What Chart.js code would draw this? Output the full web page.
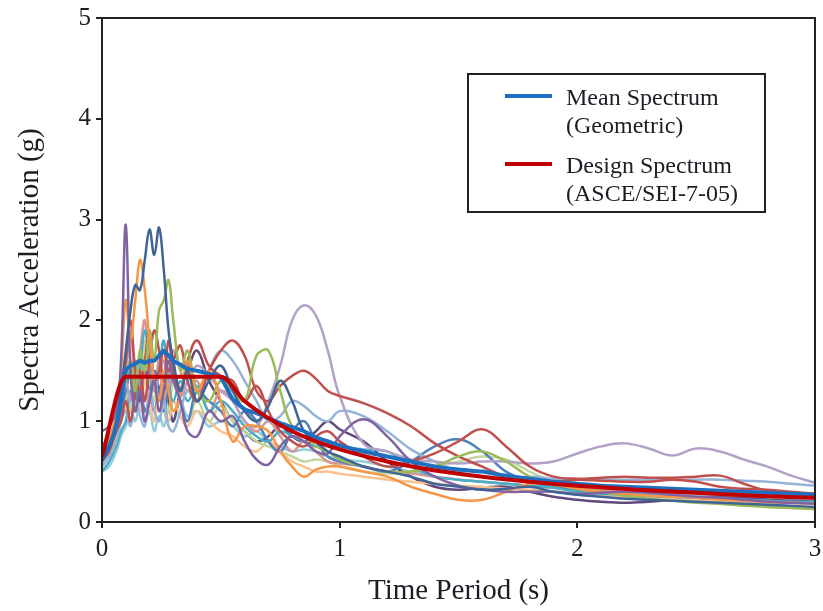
<!DOCTYPE html>
<html>
<head>
<meta charset="UTF-8">
<title>Spectra Acceleration vs Time Period</title>
<script src="https://cdn.jsdelivr.net/npm/chart.js@4"></script>
<style>
  html, body { margin: 0; padding: 0; background: #fff; }
  #wrap { width: 823px; height: 611px; }
</style>
</head>
<body>
<div id="wrap"><canvas id="chart" width="823" height="611"></canvas></div>
<script>
// periods (s) shared by the ground motion spectra and the mean
const periods = [0, 0.03, 0.06, 0.08, 0.1, 0.12, 0.14, 0.16, 0.18, 0.2,
  0.22, 0.24, 0.26, 0.28, 0.3, 0.33, 0.36, 0.4, 0.45, 0.5,
  0.55, 0.6, 0.65, 0.7, 0.75, 0.8, 0.85, 0.9, 0.95, 1.0,
  1.1, 1.2, 1.3, 1.4, 1.5, 1.6, 1.7, 1.8, 1.9, 2.0,
  2.1, 2.2, 2.3, 2.4, 2.5, 2.6, 2.7, 2.8, 2.9, 3.0];

// individual ground motion spectra (g)
const gm01 = [0.6, 0.75, 1.0, 1.3, 1.7, 2.1, 2.35, 2.3, 2.6, 2.9,
  2.65, 2.92, 2.5, 1.9, 1.6, 1.3, 1.5, 1.2, 1.4, 1.55,
  1.3, 1.1, 1.0, 1.15, 1.4, 1.2, 0.9, 0.8, 0.7, 0.65,
  0.55, 0.5, 0.45, 0.38, 0.35, 0.32, 0.33, 0.35, 0.3, 0.27,
  0.25, 0.23, 0.22, 0.21, 0.2, 0.19, 0.18, 0.17, 0.16, 0.15];
const gm02 = [0.9, 0.95, 1.1, 1.6, 2.95, 1.5, 1.1, 1.3, 1.0, 1.2,
  1.4, 1.1, 1.3, 1.6, 1.4, 1.2, 0.9, 0.85, 1.1, 1.0,
  1.05, 0.8, 0.62, 0.57, 0.75, 0.85, 0.8, 0.7, 0.68, 0.85,
  1.02, 0.85, 0.6, 0.45, 0.36, 0.32, 0.3, 0.3, 0.3, 0.28,
  0.29, 0.3, 0.29, 0.27, 0.25, 0.24, 0.22, 0.2, 0.19, 0.18];
const gm03 = [0.7, 0.8, 1.1, 1.5, 2.2, 1.8, 2.2, 2.6, 2.3, 1.8,
  1.4, 1.2, 1.5, 1.3, 1.1, 1.25, 1.6, 1.3, 1.5, 1.2,
  0.8, 0.95, 0.95, 0.9, 0.7, 0.55, 0.45, 0.52, 0.55, 0.55,
  0.5, 0.45, 0.35, 0.28, 0.22, 0.22, 0.3, 0.38, 0.37, 0.33,
  0.3, 0.28, 0.26, 0.25, 0.24, 0.22, 0.21, 0.2, 0.19, 0.18];
const gm04 = [0.65, 0.75, 0.95, 1.2, 1.4, 1.6, 1.3, 1.7, 1.5, 1.9,
  1.6, 2.1, 2.2, 2.4, 2.0, 1.5, 1.7, 1.3, 1.2, 1.4,
  1.3, 1.2, 1.65, 1.7, 1.3, 0.95, 0.9, 0.75, 0.7, 0.62,
  0.55, 0.5, 0.5, 0.55, 0.65, 0.7, 0.6, 0.45, 0.38, 0.33,
  0.3, 0.26, 0.23, 0.21, 0.19, 0.18, 0.16, 0.15, 0.14, 0.13];
const gm05 = [0.7, 0.8, 1.0, 1.3, 1.6, 2.0, 1.5, 1.3, 1.6, 1.9,
  1.4, 1.5, 1.7, 1.5, 1.6, 1.75, 1.4, 1.2, 1.5, 1.7,
  1.8, 1.65, 1.3, 1.2, 1.35, 1.45, 1.5, 1.42, 1.3, 1.25,
  1.18, 1.08, 0.95, 0.78, 0.65, 0.55, 0.45, 0.42, 0.4, 0.42,
  0.41, 0.4, 0.4, 0.42, 0.4, 0.35, 0.33, 0.32, 0.3, 0.28];
const gm06 = [0.6, 0.7, 0.9, 1.0, 1.2, 1.0, 1.3, 1.5, 1.2, 1.6,
  1.9, 1.7, 1.4, 1.8, 1.5, 1.3, 1.6, 1.8, 1.55, 1.45,
  1.4, 1.2, 1.35, 1.1, 0.9, 0.8, 0.75, 0.85, 0.9, 0.8,
  0.65, 0.55, 0.6, 0.68, 0.8, 0.92, 0.75, 0.55, 0.45, 0.43,
  0.44, 0.45, 0.44, 0.44, 0.45, 0.46, 0.38, 0.31, 0.29, 0.28];
const gm07 = [0.75, 0.85, 1.0, 1.2, 1.4, 1.2, 1.6, 1.3, 1.5, 1.7,
  1.3, 1.45, 1.6, 1.35, 1.5, 1.25, 1.4, 1.55, 1.45, 1.3,
  1.2, 1.0, 0.95, 1.2, 1.55, 2.0, 2.15, 2.05, 1.7, 1.25,
  0.78, 0.7, 0.62, 0.6, 0.58, 0.6, 0.6, 0.58, 0.6, 0.68,
  0.75, 0.78, 0.73, 0.66, 0.73, 0.7, 0.62, 0.55, 0.46, 0.39];
const gm08 = [0.55, 0.65, 0.8, 1.0, 1.1, 0.95, 1.2, 1.05, 0.95, 1.3,
  1.1, 1.0, 1.2, 0.95, 0.9, 1.1, 1.3, 1.2, 1.5, 1.7,
  1.6, 1.4, 1.2, 1.0, 1.05, 1.2, 1.15, 1.05, 1.0, 1.1,
  1.05, 0.9, 0.72, 0.6, 0.5, 0.45, 0.42, 0.45, 0.43, 0.42,
  0.42, 0.42, 0.42, 0.42, 0.42, 0.42, 0.41, 0.4, 0.38, 0.36];
const gm09 = [0.5, 0.6, 0.75, 0.9, 1.0, 1.3, 1.1, 1.5, 1.9, 1.6,
  1.3, 1.5, 1.8, 1.4, 1.2, 1.4, 1.2, 1.35, 1.1, 1.2,
  1.1, 0.95, 0.85, 0.8, 0.9, 0.85, 0.8, 0.75, 0.78, 0.75,
  0.72, 0.7, 0.55, 0.45, 0.42, 0.4, 0.38, 0.36, 0.34, 0.3,
  0.28, 0.27, 0.26, 0.25, 0.24, 0.23, 0.22, 0.21, 0.2, 0.2];
const gm10 = [0.65, 0.75, 0.9, 1.1, 1.3, 1.5, 1.2, 1.4, 1.1, 1.25,
  1.5, 1.3, 1.1, 1.3, 1.45, 1.2, 1.0, 1.3, 1.2, 1.1,
  0.95, 1.1, 1.0, 0.8, 0.7, 0.9, 1.0, 0.8, 0.65, 0.6,
  0.55, 0.5, 0.6, 0.75, 0.82, 0.7, 0.5, 0.4, 0.35, 0.32,
  0.3, 0.28, 0.26, 0.25, 0.24, 0.23, 0.22, 0.21, 0.2, 0.2];
const gm11 = [0.7, 0.8, 1.0, 1.2, 1.5, 1.9, 1.4, 1.7, 2.0, 1.5,
  1.3, 1.6, 1.2, 1.4, 1.7, 1.5, 1.3, 1.4, 1.1, 1.3,
  1.2, 1.0, 0.9, 1.0, 0.85, 0.7, 0.8, 0.7, 0.6, 0.58,
  0.55, 0.5, 0.48, 0.45, 0.42, 0.4, 0.38, 0.36, 0.34, 0.33,
  0.32, 0.31, 0.3, 0.29, 0.28, 0.27, 0.26, 0.25, 0.24, 0.23];
const gm12 = [0.6, 0.7, 0.9, 1.1, 1.3, 1.1, 1.5, 1.3, 1.8, 1.4,
  1.2, 1.6, 1.3, 1.1, 1.4, 1.2, 1.0, 1.2, 1.0, 1.15,
  1.0, 0.9, 0.8, 0.75, 0.7, 0.65, 0.6, 0.62, 0.6, 0.55,
  0.5, 0.48, 0.5, 0.55, 0.6, 0.65, 0.62, 0.5, 0.4, 0.35,
  0.3, 0.27, 0.24, 0.22, 0.2, 0.18, 0.17, 0.15, 0.14, 0.13];
const gm13 = [0.6, 0.7, 0.85, 1.0, 1.2, 1.6, 1.3, 1.1, 1.4, 1.2,
  1.0, 1.3, 1.1, 1.0, 1.2, 1.05, 0.95, 1.1, 1.0, 0.9,
  0.85, 0.75, 0.7, 0.8, 0.7, 0.6, 0.55, 0.5, 0.5, 0.48,
  0.45, 0.42, 0.4, 0.38, 0.36, 0.35, 0.33, 0.32, 0.3, 0.28,
  0.26, 0.25, 0.24, 0.23, 0.22, 0.21, 0.2, 0.19, 0.19, 0.18];
const gm14 = [0.75, 0.85, 1.0, 1.2, 1.3, 1.1, 1.4, 1.2, 1.5, 1.3,
  1.1, 1.3, 1.4, 1.2, 1.0, 1.3, 1.5, 1.7, 1.4, 1.2,
  1.0, 0.9, 0.8, 0.85, 0.95, 0.85, 0.8, 0.9, 1.0, 0.92,
  0.8, 0.6, 0.45, 0.35, 0.32, 0.34, 0.35, 0.3, 0.25, 0.22,
  0.2, 0.19, 0.2, 0.22, 0.24, 0.25, 0.24, 0.22, 0.21, 0.2];
const gm15 = [0.5, 0.55, 0.7, 0.85, 0.95, 1.1, 1.0, 1.2, 1.0, 1.1,
  0.9, 1.05, 0.95, 1.1, 1.0, 1.2, 1.05, 1.1, 0.95, 1.0,
  0.95, 0.85, 0.9, 0.8, 0.75, 0.7, 0.72, 0.7, 0.65, 0.62,
  0.6, 0.55, 0.5, 0.45, 0.42, 0.4, 0.38, 0.36, 0.34, 0.32,
  0.3, 0.29, 0.28, 0.27, 0.26, 0.25, 0.24, 0.23, 0.22, 0.22];

const groundMotions = [gm01, gm02, gm03, gm04, gm05, gm06, gm07, gm08,
  gm09, gm10, gm11, gm12, gm13, gm14, gm15];
const motionColors = ['#3f6496', '#8064a2', '#f79646', '#9bbb59', '#c0504d',
  '#c0504d', '#b3a2c7', '#95b3d7', '#4bacc6', '#4f81bd', '#d99694',
  '#c3d69b', '#fac090', '#604a7b', '#92cddc'];

// geometric mean spectrum (g)
const meanSpectrum = [0.62, 0.75, 0.95, 1.2, 1.5, 1.55, 1.57, 1.6, 1.58, 1.6,
  1.6, 1.65, 1.7, 1.65, 1.6, 1.56, 1.52, 1.5, 1.47, 1.43,
  1.22, 1.12, 1.08, 1.03, 0.98, 0.94, 0.9, 0.84, 0.8, 0.76,
  0.7, 0.65, 0.6, 0.55, 0.52, 0.5, 0.46, 0.43, 0.4, 0.38,
  0.36, 0.35, 0.34, 0.33, 0.32, 0.31, 0.3, 0.29, 0.28, 0.27];

// design spectrum ASCE/SEI 7-05 (g)
const designPeriods = [0, 0.1, 0.5, 0.6, 0.7, 0.8, 0.9, 1.0, 1.2, 1.4, 1.6, 1.8, 2.0, 2.25, 2.5, 2.75, 3.0];
const designSpectrum = [0.65, 1.44, 1.44, 1.2, 1.03, 0.9, 0.8, 0.72, 0.6, 0.51, 0.45, 0.4, 0.36, 0.32, 0.29, 0.26, 0.24];

const legendLabels = [['Mean Spectrum', '(Geometric)'], ['Design Spectrum', '(ASCE/SEI-7-05)']];
const legendColors = ['#1f6fc0', '#c00000'];

const serif = "'Liberation Serif', 'Times New Roman', serif";
const inkColor = '#1c1c24';

function toPoints(xs, ys) {
  return xs.map((x, i) => ({ x: x, y: ys[i] }));
}

const datasets = groundMotions.map((gm, i) => ({
  label: 'GM ' + (i + 1),
  data: toPoints(periods, gm),
  borderColor: motionColors[i],
  borderWidth: 2.5,
  pointRadius: 0,
  tension: 0.4,
  order: 3
}));

datasets.push({
  label: 'Mean Spectrum (Geometric)',
  data: toPoints(periods, meanSpectrum),
  borderColor: legendColors[0],
  borderWidth: 4,
  pointRadius: 0,
  tension: 0.2,
  order: 1
});
datasets.push({
  label: 'Design Spectrum (ASCE/SEI-7-05)',
  data: toPoints(designPeriods, designSpectrum),
  borderColor: legendColors[1],
  borderWidth: 4,
  pointRadius: 0,
  cubicInterpolationMode: 'monotone',
  order: 0
});

// frame around the plot and the boxed legend inside it
const frameLegend = {
  id: 'frameLegend',
  afterDraw(chart) {
    const ctx = chart.ctx;
    const a = chart.chartArea;
    ctx.save();
    ctx.strokeStyle = '#222';
    ctx.lineWidth = 2;
    ctx.strokeRect(a.left, a.top, a.right - a.left, a.bottom - a.top);

    const bx = 468, by = 74, bw = 297, bh = 138;
    ctx.fillStyle = '#fff';
    ctx.fillRect(bx, by, bw, bh);
    ctx.strokeRect(bx, by, bw, bh);

    ctx.font = '24px ' + serif;
    ctx.textBaseline = 'alphabetic';
    ctx.textAlign = 'left';
    legendLabels.forEach((lines, i) => {
      const y0 = by + 22 + i * 68;
      ctx.strokeStyle = legendColors[i];
      ctx.lineWidth = 4;
      ctx.beginPath();
      ctx.moveTo(bx + 37, y0);
      ctx.lineTo(bx + 84, y0);
      ctx.stroke();
      ctx.fillStyle = inkColor;
      lines.forEach((t, j) => ctx.fillText(t, bx + 98, y0 + 9 + j * 28));
    });
    ctx.restore();
  }
};

new Chart(document.getElementById('chart'), {
  type: 'line',
  data: { datasets: datasets },
  options: {
    responsive: false,
    animation: false,
    layout: { padding: { top: 18, right: 8, left: 0, bottom: 0 } },
    plugins: { legend: { display: false }, tooltip: { enabled: false } },
    scales: {
      x: {
        type: 'linear',
        min: 0,
        max: 3,
        ticks: { stepSize: 1, color: inkColor, font: { family: serif, size: 25 }, padding: 6, maxRotation: 0 },
        grid: { drawOnChartArea: false, tickLength: 6, color: '#222', lineWidth: 2 },
        border: { color: '#222', width: 2 },
        title: { display: true, text: 'Time Period (s)', color: inkColor, font: { family: serif, size: 29 }, padding: { top: 0, bottom: 2 } },
        afterFit(scale) {
          scale.height = 89;
          scale.paddingLeft = 0;
          scale.paddingRight = 0;
        }
      },
      y: {
        min: 0,
        max: 5,
        ticks: { stepSize: 1, color: inkColor, font: { family: serif, size: 25 }, padding: 5 },
        grid: { drawOnChartArea: false, tickLength: 6, color: '#222', lineWidth: 2 },
        border: { color: '#222', width: 2 },
        title: { display: true, text: 'Spectra Acceleration (g)', color: inkColor, font: { family: serif, size: 29 }, padding: { top: 13, bottom: 0 } },
        afterFit(scale) {
          scale.width = 102;
          scale.paddingTop = 0;
          scale.paddingBottom = 0;
        }
      }
    }
  },
  plugins: [frameLegend]
});
</script>
</body>
</html>
